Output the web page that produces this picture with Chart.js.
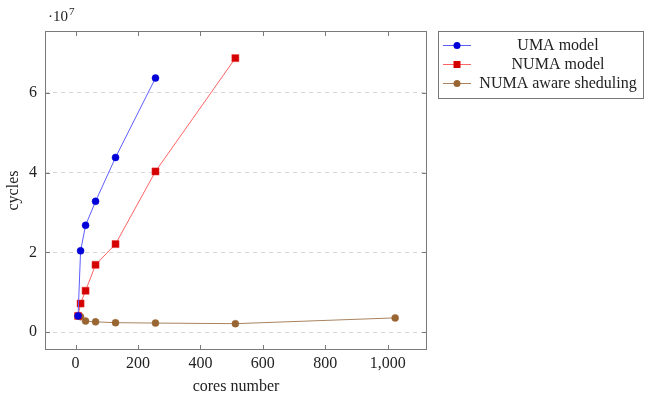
<!DOCTYPE html>
<html>
<head>
<meta charset="utf-8">
<script src="https://cdn.jsdelivr.net/npm/chart.js@4"></script>
<style>
  body { margin: 0; background: #fff; }
  #wrap { position: relative; width: 650px; height: 396px; }
</style>
</head>
<body>
<div id="wrap"><canvas id="chart" width="650" height="396"></canvas></div>
<script>
// data (cycles vs cores)
const umaCores = [8, 16, 32, 64, 128, 256];
const umaCycles = [4.1e6, 2.04e7, 2.68e7, 3.28e7, 4.38e7, 6.37e7];

const numaCores = [8, 16, 32, 64, 128, 256, 512];
const numaCycles = [4.1e6, 7.2e6, 1.04e7, 1.69e7, 2.21e7, 4.03e7, 6.87e7];

const awareCores = [8, 16, 32, 64, 128, 256, 512, 1024];
const awareCycles = [4.1e6, 3.9e6, 2.8e6, 2.6e6, 2.4e6, 2.3e6, 2.15e6, 3.6e6];

const xTicks = [0, 200, 400, 600, 800, 1000];
const yTicks = [0, 2e7, 4e7, 6e7];
const seriesNames = ['UMA model', 'NUMA model', 'NUMA aware sheduling'];

const FONT = 'Liberation Serif';

function toPoints(xs, ys) {
  return xs.map((x, i) => ({ x: x, y: ys[i] }));
}

// box around plot, inward ticks, exponent label and legend
const pgfStyle = {
  id: 'pgfStyle',
  afterDraw(chart) {
    const ctx = chart.ctx;
    const a = chart.chartArea;
    const xs = chart.scales.x, ys = chart.scales.y;
    ctx.save();
    ctx.strokeStyle = '#7a7a7a';
    ctx.lineWidth = 1;
    ctx.strokeRect(a.left + 0.5, a.top + 0.5, a.right - a.left - 1, a.bottom - a.top - 1);
    ctx.beginPath();
    xTicks.forEach(v => {
      const px = Math.round(xs.getPixelForValue(v)) + 0.5;
      ctx.moveTo(px, a.bottom); ctx.lineTo(px, a.bottom - 5);
      ctx.moveTo(px, a.top); ctx.lineTo(px, a.top + 5);
    });
    yTicks.forEach(v => {
      const py = Math.round(ys.getPixelForValue(v)) + 0.5;
      ctx.moveTo(a.left, py); ctx.lineTo(a.left + 5, py);
      ctx.moveTo(a.right, py); ctx.lineTo(a.right - 5, py);
    });
    ctx.stroke();

    // ·10^7
    ctx.fillStyle = '#222';
    ctx.textBaseline = 'alphabetic';
    ctx.textAlign = 'left';
    ctx.font = '15px ' + FONT;
    ctx.fillText('\u00b710', 48, 21);
    const w = ctx.measureText('\u00b710').width;
    ctx.font = '11px ' + FONT;
    ctx.fillText('7', 48 + w + 1, 15);

    // legend
    const lx = 438, ly = 31, lw = 205, lh = 67;
    ctx.strokeStyle = '#777';
    ctx.strokeRect(lx + 0.5, ly + 0.5, lw, lh);
    const rows = [45, 64, 83];
    chart.data.datasets.forEach((ds, i) => {
      const y = rows[i];
      ctx.strokeStyle = ds.borderColor;
      ctx.lineWidth = 1;
      ctx.beginPath();
      ctx.moveTo(443, y + 0.5); ctx.lineTo(471, y + 0.5);
      ctx.stroke();
      ctx.fillStyle = ds.pointBackgroundColor;
      ctx.beginPath();
      if (ds.pointStyle === 'rect') {
        ctx.rect(457 - 3.5, y - 3, 7, 7);
      } else {
        ctx.arc(457, y + 0.5, 3.5, 0, Math.PI * 2);
      }
      ctx.fill();
      ctx.fillStyle = '#222';
      ctx.font = '16px ' + FONT;
      ctx.textAlign = 'center';
      ctx.textBaseline = 'middle';
      ctx.fillText(seriesNames[i], 558, y + 1);
    });
    ctx.restore();
  }
};

const ctx = document.getElementById('chart').getContext('2d');
const chart = new Chart(ctx, {
  type: 'scatter',
  data: {
    datasets: [
      {
        label: seriesNames[0],
        data: toPoints(umaCores, umaCycles),
        showLine: true,
        borderColor: '#5c5cff',
        borderWidth: 1,
        pointStyle: 'circle',
        pointRadius: 3.5,
        pointBackgroundColor: '#0000d8',
        pointBorderColor: '#0000d8',
        pointBorderWidth: 0.5,
      },
      {
        label: seriesNames[1],
        data: toPoints(numaCores, numaCycles),
        showLine: true,
        borderColor: '#ff6464',
        borderWidth: 1,
        pointStyle: 'rect',
        pointRadius: 5,
        pointBackgroundColor: '#d40000',
        pointBorderColor: '#e83030',
        pointBorderWidth: 0.5,
      },
      {
        label: seriesNames[2],
        data: toPoints(awareCores, awareCycles),
        showLine: true,
        borderColor: '#a8835e',
        borderWidth: 1,
        pointStyle: 'circle',
        pointRadius: 3.5,
        pointBackgroundColor: '#996633',
        pointBorderColor: '#996633',
        pointBorderWidth: 0.5,
      },
    ],
  },
  options: {
    responsive: false,
    animation: false,
    layout: { padding: { top: 31, right: 223, left: 0, bottom: 0 } },
    plugins: {
      legend: { display: false },
      tooltip: { enabled: false },
    },
    scales: {
      x: {
        type: 'linear',
        min: -98,
        max: 1126,
        afterBuildTicks: s => { s.ticks = xTicks.map(v => ({ value: v })); },
        afterFit: s => { s.height = 46; },
        grid: { display: false, drawTicks: false },
        border: { display: false },
        ticks: {
          padding: 4,
          color: '#222',
          font: { family: FONT, size: 16 },
          callback: v => v.toLocaleString('en-US'),
        },
        title: {
          display: true,
          text: 'cores number',
          color: '#222',
          font: { family: FONT, size: 16 },
          padding: { top: 0, bottom: 0 },
        },
      },
      y: {
        type: 'linear',
        min: -4.45e6,
        max: 7.55e7,
        afterBuildTicks: s => { s.ticks = yTicks.map(v => ({ value: v })); },
        afterFit: s => { s.width = 45; },
        grid: {
          color: '#d6d6d6',
          lineWidth: 1,
          drawTicks: false,
        },
        border: { display: false, dash: [4, 4] },
        ticks: {
          padding: 8,
          color: '#222',
          font: { family: FONT, size: 16 },
          callback: v => String(v / 1e7),
        },
        title: {
          display: true,
          text: 'cycles',
          color: '#222',
          font: { family: FONT, size: 16 },
          padding: { top: 4, bottom: 0 },
        },
      },
    },
  },
  plugins: [pgfStyle],
});
</script>
</body>
</html>
